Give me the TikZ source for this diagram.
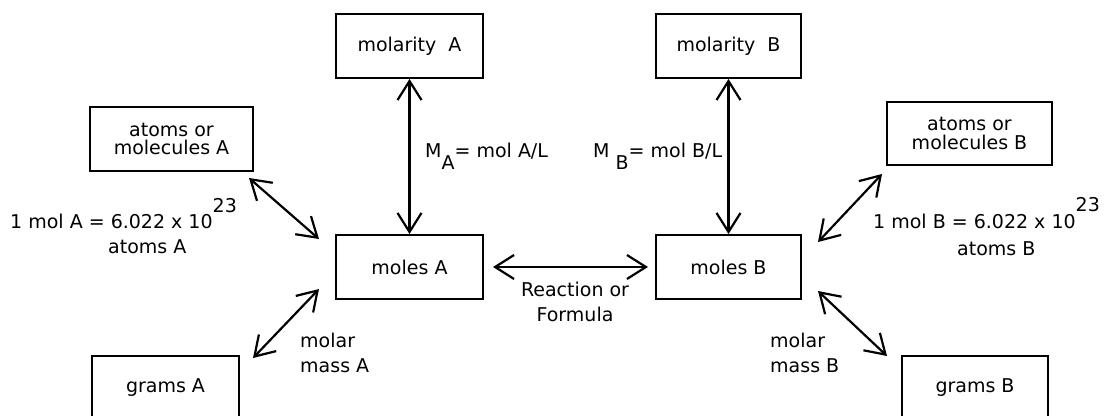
\documentclass[tikz,border=0pt]{standalone}
\usepackage{fontspec}
\setmainfont{DejaVu Sans}
\usetikzlibrary{arrows.meta,calc}
\begin{document}
\begin{tikzpicture}[x=1pt,y=-1pt,
  box/.style={draw,line width=2pt,minimum width=147pt,minimum height=64pt,inner sep=0pt,align=center,
    font=\fontsize{19}{18.5}\selectfont},
  lbl/.style={inner sep=0pt,font=\fontsize{19}{25}\selectfont},
  dbl/.style={line width=2.2pt,{Straight Barb[length=19pt,width=24pt,line width=2.2pt]}-{Straight Barb[length=19pt,width=24pt,line width=2.2pt]}}]
\path[use as bounding box] (0,0) rectangle (1107,415);
\clip (0,0) rectangle (1107,415);
% boxes
\node[box] (molA) at (409.5,46) {molarity~ A};
\node[box,minimum width=145pt] (molB) at (728.5,46) {molarity~ B};
\node[box] (molesA) at (409.5,267) {moles A};
\node[box,minimum width=145pt] (molesB) at (728.5,267) {moles B};
\node[box,minimum width=163pt] (atA) at (171.5,139) {atoms or\\molecules A};
\node[box,minimum width=165pt,minimum height=63pt] (atB) at (969.5,133.5) {atoms or\\molecules B};
\node[box] (grA) at (165.5,388) {grams A};
\node[box,minimum width=146pt] (grB) at (975,388) {grams B};
% connectors
\draw[dbl] (molA.south) -- (molesA.north);
\draw[dbl] (molB.south) -- (molesB.north);
\draw[dbl] ($(molesA.east)+(9,0)$) -- ($(molesB.west)+(-7,0)$);
\coordinate (a1) at ($(atA.south east)+(-5,6)$);
\coordinate (a2) at ($(molesA.north west)+(-16,5)$);
\draw[dbl] (a1) -- (a2);
\coordinate (g1) at ($(grA.north east)+(13,3)$);
\coordinate (g2) at ($(molesA.south west)+(-16,-11)$);
\draw[dbl] (g1) -- (g2);
\coordinate (b1) at ($(atB.south west)+(-4,8)$);
\coordinate (b2) at ($(molesB.north east)+(16,8)$);
\draw[dbl] (b1) -- (b2);
\coordinate (h1) at ($(grB.north west)+(-14,1)$);
\coordinate (h2) at ($(molesB.south east)+(16,-9)$);
\draw[dbl] (h1) -- (h2);
% labels
\node[lbl,anchor=base west] (mA) at (425,157) {M\raisebox{-12pt}{A}= mol A/L};
\node[lbl,anchor=base west] (mB) at (593,157) {M \raisebox{-12pt}{B}= mol B/L};
\node[lbl,anchor=base west] (nA) at (10,228) {1 mol A = 6.022 x 10\raisebox{16pt}{23}};
\node[lbl,anchor=base west] (nA2) at (108,253) {atoms A};
\node[lbl,anchor=base west] (nB) at (873,228) {1 mol B = 6.022 x 10\raisebox{17pt}{23}};
\node[lbl,anchor=base west] (nB2) at (957,255) {atoms B};
\node[lbl,anchor=base west] (mmA) at (300,347) {molar};
\node[lbl,anchor=base west] (mmA2) at (300,372) {mass A};
\node[lbl,anchor=base west] (mmB) at (770,347) {molar};
\node[lbl,anchor=base west] (mmB2) at (770,372) {mass B};
\node[lbl,anchor=base] (rx) at (575,296) {Reaction or};
\node[lbl,anchor=base] (rx2) at (575,321) {Formula};
\end{tikzpicture}
\end{document}
